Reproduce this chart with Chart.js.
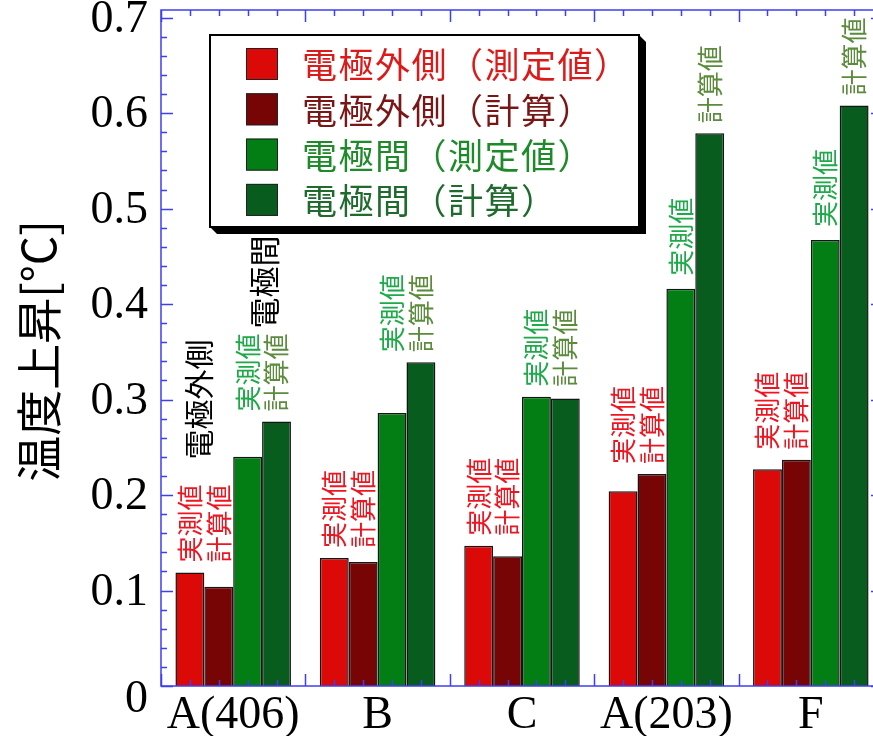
<!DOCTYPE html>
<html>
<head>
<meta charset="utf-8">
<script src="https://cdn.jsdelivr.net/npm/chart.js@4/dist/chart.umd.min.js"></script>
<style>
  html, body { margin: 0; padding: 0; background: #fff; width: 873px; height: 736px; overflow: hidden; }
  #wrap { position: absolute; left: 0; top: 0; width: 900px; height: 736px; }
</style>
</head>
<body>
<div id="wrap"><canvas id="c" width="900" height="736"></canvas></div>
<script>
// Sample groups along the x axis
const categories = ['A(406)', 'B', 'C', 'A(203)', 'F'];

// Series names (legend)
const seriesNames = ['電極外側（測定値）', '電極外側（計算）', '電極間（測定値）', '電極間（計算）'];

// Temperature rise [°C]
const outerMeasured = [0.119, 0.134, 0.147, 0.204, 0.227];
const outerCalc     = [0.104, 0.130, 0.136, 0.222, 0.237];
const gapMeasured   = [0.240, 0.286, 0.303, 0.416, 0.467];
const gapCalc       = [0.277, 0.339, 0.301, 0.579, 0.608];

// Y axis tick labels
const yTickValues = [0, 0.1, 0.2, 0.3, 0.4, 0.5, 0.6, 0.7];
const yTickLabels = ['0', '0.1', '0.2', '0.3', '0.4', '0.5', '0.6', '0.7'];

// Short text written above each bar
const barTags = ['実測値', '計算値', '実測値', '計算値'];
// Groups where the two 電極間 tags share one height
const gapTagsShared = [true, true, true, false, false];

const yTitle = '温度上昇[°C]';
const noteOuter = '電極外側';
const noteGap = '電極間';

const barColors  = ['#dc0909', '#770505', '#037e14', '#085d1e'];
const legendText = ['#dd1a1a', '#7a1616', '#1f8a2a', '#1f6a2d'];
const tagColors  = ['#ee1520', '#ee1520', '#1faa4a', '#5b8c3c'];
const axisBlue = '#3f3ff0';

const datasets = [outerMeasured, outerCalc, gapMeasured, gapCalc].map((d, i) => ({
  label: seriesNames[i],
  data: d,
  backgroundColor: barColors[i],
  borderColor: '#151515',
  borderWidth: 1.5,
  categoryPercentage: 0.8,
  barPercentage: 1.0
}));

const decor = {
  id: 'decor',
  afterDatasetsDraw(chart) {
    const ctx = chart.ctx;
    const xs = chart.scales.x, ys = chart.scales.y;
    const a = chart.chartArea;
    ctx.save();

    // frame and ticks
    ctx.strokeStyle = axisBlue;
    ctx.lineWidth = 1.5;
    ctx.strokeRect(a.left, a.top, a.right - a.left, a.bottom - a.top);
    ctx.beginPath();
    for (let k = 0; k <= 35; k++) {
      const y = Math.round(ys.getPixelForValue(k * 0.02)) + 0.5;
      const len = k % 5 === 0 ? 12 : 6;
      ctx.moveTo(a.left, y); ctx.lineTo(a.left + len, y);
      ctx.moveTo(a.right, y); ctx.lineTo(a.right - len, y);
    }
    for (let j = 0; j <= categories.length * 5; j++) {
      const x = Math.round(xs.getPixelForValue(-0.5 + j * 0.2)) + 0.5;
      const len = j % 5 === 0 ? 12 : 6;
      ctx.moveTo(x, a.bottom); ctx.lineTo(x, a.bottom - len);
      ctx.moveTo(x, a.top); ctx.lineTo(x, a.top + len);
    }
    ctx.stroke();

    // y tick labels
    ctx.fillStyle = '#000';
    ctx.font = '46px "Liberation Serif"';
    ctx.textAlign = 'right';
    ctx.textBaseline = 'middle';
    yTickValues.forEach((v, i) => {
      const y = ys.getPixelForValue(v) + (v === 0 ? 14 : 2);
      ctx.fillText(yTickLabels[i], 148, y);
    });

    // category labels
    ctx.textAlign = 'center';
    ctx.textBaseline = 'alphabetic';
    categories.forEach((c, i) => {
      ctx.fillText(c, xs.getPixelForValue(i), 728);
    });

    // y axis title
    ctx.save();
    ctx.translate(39, 351);
    ctx.rotate(-Math.PI / 2);
    ctx.font = '46px "Noto Sans CJK JP"';
    ctx.textAlign = 'center';
    ctx.textBaseline = 'middle';
    ctx.fillText(yTitle, 0, 0);
    ctx.restore();

    // vertical tags above bars
    const vertical = (text, x, yBottom, font, color) => {
      ctx.save();
      ctx.translate(x, yBottom);
      ctx.rotate(-Math.PI / 2);
      ctx.font = font;
      ctx.fillStyle = color;
      ctx.textAlign = 'left';
      ctx.textBaseline = 'middle';
      ctx.fillText(text, 0, 0);
      ctx.restore();
    };
    const tagFont = '26px "Noto Sans CJK JP"';
    ctx.font = tagFont;
    const tagLen = ctx.measureText(barTags[0]).width;
    const gap = 10;
    const metas = [0, 1, 2, 3].map(d => chart.getDatasetMeta(d));
    categories.forEach((c, i) => {
      const bars = metas.map(m => m.data[i]);
      // 電極外側 pair
      const topOuter = Math.min(bars[0].y, bars[1].y) - gap;
      vertical(barTags[0], bars[0].x, topOuter, tagFont, tagColors[0]);
      vertical(barTags[1], bars[1].x, topOuter, tagFont, tagColors[1]);
      // 電極間 pair
      let yg2, yg3;
      if (gapTagsShared[i]) {
        yg2 = yg3 = Math.min(bars[2].y, bars[3].y) - gap;
      } else {
        yg2 = bars[2].y - gap - 3;
        yg3 = bars[3].y - gap;
      }
      vertical(barTags[2], bars[2].x, yg2, tagFont, tagColors[2]);
      vertical(barTags[3], bars[3].x, yg3, tagFont, tagColors[3]);

      if (i === 0) {
        const cx = xs.getPixelForValue(0);
        vertical(noteOuter, cx - 35, topOuter - tagLen - 25, '30px "Noto Sans CJK JP"', '#000');
        vertical(noteGap, cx + 31, yg2 - tagLen - 5, '31px "Noto Sans CJK JP"', '#000');
      }
    });

    // legend box with extruded shadow
    const L = 210, T = 35, R = 639, B = 227, d = 7;
    ctx.fillStyle = '#000';
    ctx.beginPath();
    ctx.moveTo(R, T); ctx.lineTo(R + d, T + d); ctx.lineTo(R + d, B + d);
    ctx.lineTo(L + d, B + d); ctx.lineTo(L, B); ctx.closePath();
    ctx.fill();
    ctx.fillStyle = '#fff';
    ctx.fillRect(L, T, R - L, B - T);
    ctx.strokeStyle = '#000';
    ctx.lineWidth = 2;
    ctx.strokeRect(L, T, R - L, B - T);
    ctx.font = '35px "Noto Sans CJK JP"';
    ctx.letterSpacing = '1.5px';
    ctx.textAlign = 'left';
    ctx.textBaseline = 'middle';
    chart.data.datasets.forEach((ds, i) => {
      const y0 = 48 + i * 45.3;
      ctx.fillStyle = ds.backgroundColor;
      ctx.fillRect(246, y0, 32, 32);
      ctx.strokeStyle = '#222';
      ctx.lineWidth = 1;
      ctx.strokeRect(246.5, y0 + 0.5, 31, 31);
      ctx.fillStyle = legendText[i];
      ctx.fillText(ds.label, 302, y0 + 17);
    });
    ctx.letterSpacing = '0px';

    ctx.restore();
  }
};

new Chart(document.getElementById('c'), {
  type: 'bar',
  data: { labels: categories, datasets },
  options: {
    responsive: false,
    animation: false,
    layout: { padding: { left: 161, right: 17, top: 10, bottom: 50 } },
    plugins: { legend: { display: false }, tooltip: { enabled: false } },
    scales: {
      x: { display: false, offset: true },
      y: { display: false, min: 0, max: 0.708 }
    }
  },
  plugins: [decor]
});
</script>
</body>
</html>
